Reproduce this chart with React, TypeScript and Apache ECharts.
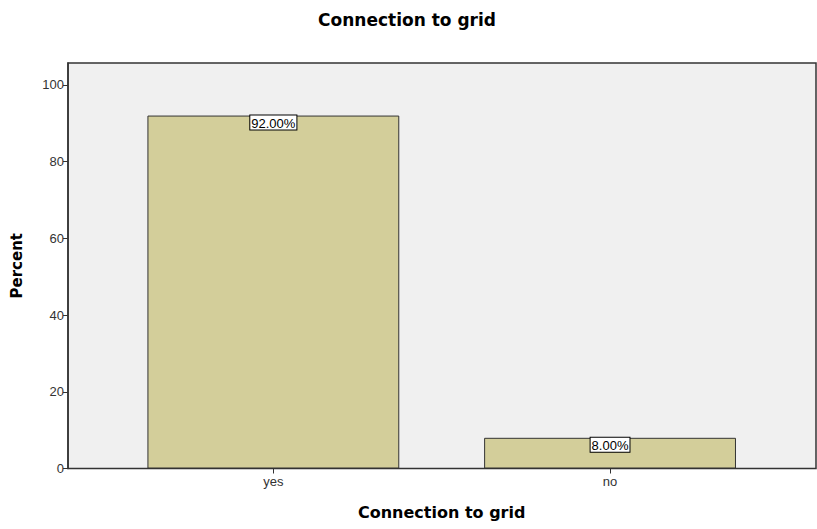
import React, { useEffect, useRef } from "react";
import * as echarts from "echarts";

const categories = ["yes", "no"];
const percentValues = [92, 8];
const valueLabels = ["92.00%", "8.00%"];
const yTicks = [0, 20, 40, 60, 80, 100];

export default function App() {
  const ref = useRef<HTMLDivElement>(null);
  useEffect(() => {
    if (!ref.current) return;
    const chart = echarts.init(ref.current, null, { renderer: "svg" });
    const font = "'Liberation Sans', Arial, sans-serif";
    const boldFont = "'DejaVu Sans', Verdana, sans-serif";
    const yMax = 105.7;
    chart.setOption({
      animation: false,
      backgroundColor: "#ffffff",
      title: {
        text: "Connection to grid",
        left: 402,
        top: 6,
        textAlign: "center",
        textStyle: { fontFamily: boldFont, fontSize: 17, fontWeight: "bold", color: "#000" },
      },
      grid: [
        {
          left: 68,
          top: 63,
          width: 748,
          height: 405.5,
          show: true,
          backgroundColor: "#f0f0f0",
          borderColor: "#333",
          borderWidth: 1.5,
        },
        {
          left: 105,
          top: 63,
          width: 673.4,
          height: 405.5,
          show: false,
        },
      ],
      xAxis: [
        { type: "value", gridIndex: 0, show: false, min: 0, max: 1 },
        {
          type: "category",
          gridIndex: 1,
          data: categories,
          axisLine: { show: false },
          axisTick: { show: true, alignWithLabel: true, length: 5, lineStyle: { color: "#333" } },
          axisLabel: { fontFamily: font, fontSize: 13, color: "#333", margin: 6 },
          name: "Connection to grid",
          nameLocation: "middle",
          nameGap: 36,
          nameTextStyle: { fontFamily: boldFont, fontSize: 16, fontWeight: "bold", color: "#000" },
        },
      ],
      yAxis: [
        { type: "value", gridIndex: 0, show: false, min: 0, max: yMax },
        {
          type: "value",
          gridIndex: 1,
          min: 0,
          max: yMax,
          interval: 20,
          offset: 37,
          splitLine: { show: false },
          axisLine: { show: true, lineStyle: { color: "#333", width: 1.5 } },
          axisTick: { show: true, length: 5, lineStyle: { color: "#333" } },
          axisLabel: {
            fontFamily: font,
            fontSize: 13,
            color: "#333",
            margin: 4,
            showMaxLabel: false,
            formatter: (v: number) => (yTicks.includes(v) ? String(v) : ""),
          },
          name: "Percent",
          nameLocation: "middle",
          nameGap: 44,
          nameRotate: 90,
          nameTextStyle: { fontFamily: boldFont, fontSize: 15, fontWeight: "bold", color: "#000" },
        },
      ],
      series: [
        {
          type: "bar",
          xAxisIndex: 1,
          yAxisIndex: 1,
          data: percentValues,
          barWidth: "74.8%",
          itemStyle: { color: "#d3ce9a", borderColor: "#333", borderWidth: 1 },
          label: {
            show: true,
            position: "insideTop",
            distance: 0,
            formatter: (p: any) => valueLabels[p.dataIndex],
            fontFamily: font,
            fontSize: 13,
            color: "#000",
            backgroundColor: "#ffffff",
            borderColor: "#000",
            borderWidth: 1,
            padding: [1, 1, 0, 1],
          },
        },
      ],
    });
    return () => chart.dispose();
  }, []);
  return (
    <div
      ref={ref}
      style={{ position: "fixed", left: 0, top: 0, width: 817, height: 529 }}
    />
  );
}
